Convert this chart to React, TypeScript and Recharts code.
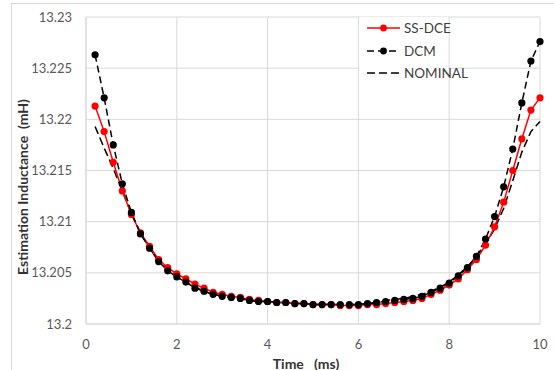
import { CartesianGrid, Label, Legend, Line, LineChart, XAxis, YAxis } from "recharts";

const times = [
  0.2, 0.4, 0.6, 0.8, 1.0, 1.2, 1.4, 1.6, 1.8, 2.0,
  2.2, 2.4, 2.6, 2.8, 3.0, 3.2, 3.4, 3.6, 3.8, 4.0,
  4.2, 4.4, 4.6, 4.8, 5.0, 5.2, 5.4, 5.6, 5.8, 6.0,
  6.2, 6.4, 6.6, 6.8, 7.0, 7.2, 7.4, 7.6, 7.8, 8.0,
  8.2, 8.4, 8.6, 8.8, 9.0, 9.2, 9.4, 9.6, 9.8, 10.0,
];

const ssDce = [
  13.2213, 13.2188, 13.2158, 13.213, 13.2107, 13.2089, 13.2076, 13.2063, 13.2055, 13.2049,
  13.2044, 13.2039, 13.2035, 13.2031, 13.2029, 13.2027, 13.2026, 13.2024, 13.2023, 13.2022,
  13.2021, 13.2021, 13.202, 13.202, 13.2019, 13.2019, 13.2019, 13.2018, 13.2018, 13.2018,
  13.2019, 13.2019, 13.202, 13.2021, 13.2022, 13.2023, 13.2025, 13.2029, 13.2033, 13.2038,
  13.2044, 13.2053, 13.2063, 13.2077, 13.2095, 13.2119, 13.215, 13.2181, 13.2209, 13.2221,
];

const dcm = [
  13.2263, 13.2221, 13.2175, 13.2137, 13.2109, 13.2088, 13.2074, 13.2061, 13.2052, 13.2046,
  13.2041, 13.2035, 13.2032, 13.2029, 13.2027, 13.2026, 13.2025, 13.2023, 13.2022, 13.2022,
  13.2021, 13.2021, 13.202, 13.202, 13.2019, 13.2019, 13.2019, 13.2019, 13.2019, 13.2019,
  13.202, 13.2021, 13.2022, 13.2023, 13.2024, 13.2025, 13.2027, 13.2031, 13.2035, 13.204,
  13.2047, 13.2055, 13.2066, 13.2083, 13.2105, 13.2134, 13.2171, 13.2216, 13.2257, 13.2276,
];

const nominal = [
  13.2193, 13.2172, 13.2152, 13.213, 13.2108, 13.2089, 13.2074, 13.2062, 13.2053, 13.2046,
  13.2041, 13.2036, 13.2032, 13.2029, 13.2027, 13.2026, 13.2025, 13.2023, 13.2022, 13.2022,
  13.2021, 13.2021, 13.202, 13.202, 13.2019, 13.2019, 13.2019, 13.2019, 13.2019, 13.2019,
  13.202, 13.2021, 13.2023, 13.2024, 13.2025, 13.2027, 13.2029, 13.2032, 13.2036, 13.2041,
  13.2048, 13.2056, 13.2066, 13.2078, 13.2093, 13.2113, 13.214, 13.2168, 13.2188, 13.2198,
];

const xTicks = [0, 2, 4, 6, 8, 10];
const yTicks = [13.2, 13.205, 13.21, 13.215, 13.22, 13.225, 13.23];

const data = times.map((t, i) => ({
  time: t,
  ssDce: ssDce[i],
  dcm: dcm[i],
  nominal: nominal[i],
}));

const font = "Lato, 'Open Sans', sans-serif";

function ChartLegend() {
  const rows = [
    { name: "SS-DCE", color: "#ff0000", dash: undefined, dot: true },
    { name: "DCM", color: "#000000", dash: "7 4", dot: true },
    { name: "NOMINAL", color: "#000000", dash: "8 4", dot: false },
  ];
  return (
    <div style={{ background: "#fff", width: 89, height: 66, paddingLeft: 8, boxSizing: "border-box", fontFamily: font, whiteSpace: "nowrap" }}>
      {rows.map((r) => (
        <div key={r.name} style={{ display: "flex", alignItems: "center", height: 22.5 }}>
          <svg width={35} height={10} style={{ flexShrink: 0 }}>
            <line x1={0} y1={5} x2={33} y2={5} stroke={r.color} strokeWidth={1.5} strokeDasharray={r.dash} />
            {r.dot && <circle cx={16.5} cy={5} r={3.4} fill={r.color} />}
          </svg>
          <span style={{ fontSize: 13.5, color: "#404040", marginLeft: 2 }}>{r.name}</span>
        </div>
      ))}
    </div>
  );
}

export default function App() {
  return (
    <div style={{ position: "absolute", left: 0, top: 0, width: 554, height: 370, overflow: "hidden", background: "#fff" }}>
      <div
        style={{
          position: "absolute",
          left: 11,
          top: 3,
          width: 620,
          height: 420,
          border: "1px solid #d9d9d9",
        }}
      />
      <div style={{ position: "absolute", left: 0, top: 0 }}>
        <LineChart width={554} height={370} data={data} margin={{ top: 17, right: 14, bottom: 0, left: 0 }}>
          <CartesianGrid stroke="#d9d9d9" strokeWidth={1} />
          <XAxis
            dataKey="time"
            type="number"
            domain={[0, 10]}
            ticks={xTicks}
            height={46}
            axisLine={{ stroke: "#d9d9d9" }}
            tickLine={false}
            tickMargin={10}
            tick={{ fill: "#595959", fontSize: 13, fontFamily: font }}
          >
            <Label
              content={() => (
                <text
                  x={306}
                  y={363}
                  textAnchor="middle"
                  dominantBaseline="central"
                  style={{ whiteSpace: "pre" }}
                  fontFamily={font}
                  fontSize={14}
                  fontWeight="bold"
                  fill="#333"
                >
                  {"Time   (ms)"}
                </text>
              )}
            />
          </XAxis>
          <YAxis
            type="number"
            domain={[13.2, 13.23]}
            ticks={yTicks}
            width={86}
            allowDataOverflow
            axisLine={{ stroke: "#d9d9d9" }}
            tickLine={false}
            tickMargin={8}
            tickFormatter={(v) => String(Number(Number(v).toFixed(3)))}
            tick={{ fill: "#595959", fontSize: 13, fontFamily: font }}
          >
            <Label
              content={() => (
                <text
                  x={22}
                  y={187}
                  transform="rotate(-90 22 187)"
                  textAnchor="middle"
                  dominantBaseline="central"
                  style={{ whiteSpace: "pre" }}
                  fontFamily={font}
                  fontSize={14}
                  fontWeight="bold"
                  fill="#333"
                >
                  {"Estimation Inductance  (mH)"}
                </text>
              )}
            />
          </YAxis>
          <Legend
            layout="vertical"
            align="center"
            verticalAlign="middle"
            content={() => <ChartLegend />}
            wrapperStyle={{ left: 359, top: 17, width: 89 }}
          />
          <Line
            dataKey="nominal"
            stroke="#000"
            strokeWidth={1.5}
            strokeDasharray="8 4"
            dot={false}
            isAnimationActive={false}
          />
          <Line
            dataKey="ssDce"
            stroke="#ff0000"
            strokeWidth={1.5}
            dot={{ r: 3.6, fill: "#ff0000", stroke: "none" }}
            isAnimationActive={false}
          />
          <Line
            dataKey="dcm"
            stroke="#000"
            strokeWidth={1.5}
            strokeDasharray="7 4"
            dot={{ r: 3.6, fill: "#000", stroke: "none", strokeDasharray: "0" }}
            isAnimationActive={false}
          />
        </LineChart>
      </div>
    </div>
  );
}
